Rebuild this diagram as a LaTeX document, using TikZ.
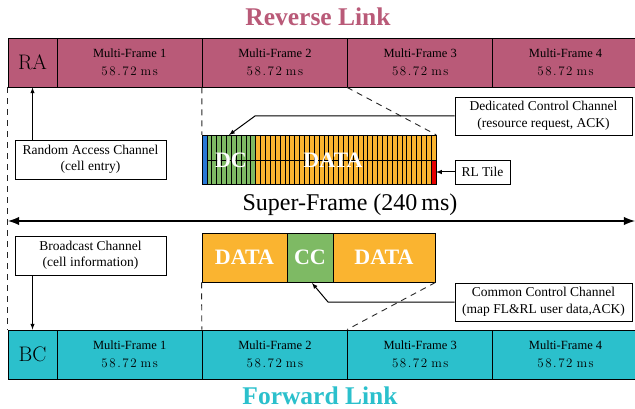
\documentclass[tikz,border=0pt]{standalone}
\usepackage{fontspec}
\usepackage{amsmath}
\usetikzlibrary{arrows}
\usetikzlibrary{shapes}
\newfontfamily\tnr{Liberation Serif}
\newfontfamily\lmsp[LetterSpace=12]{Latin Modern Roman}
\definecolor{rlpink}{RGB}{185,90,120}
\definecolor{flcyan}{RGB}{43,192,204}
\definecolor{slotorange}{RGB}{250,180,48}
\definecolor{slotgreen}{RGB}{126,186,100}
\definecolor{slotblue}{RGB}{40,120,215}
\definecolor{slotred}{RGB}{230,0,0}
\newcommand{\mfdur}{{\lmsp\fontsize{13}{18}\selectfont 58.72\hspace{4pt}ms}}

\begin{document}
\begin{tikzpicture}[x=1pt,y=-1pt,
        cell/.style={draw, line width=0.9pt, inner sep=0pt, minimum height=49pt, align=center},
        mfcell/.style={cell, minimum width=145.3pt, font=\tnr\fontsize{12.5}{18}\selectfont},
        idcell/.style={cell, minimum width=49pt, font=\fontsize{21}{21}\selectfont},
        datacell/.style={cell, fill=slotorange, text=white, font=\tnr\bfseries\fontsize{22}{22}\selectfont},
        infobox/.style={draw, fill=white, line width=0.8pt, inner sep=0pt, align=center, font=\tnr\fontsize{13.5}{16.5}\selectfont},
        title/.style={anchor=base, inner sep=0pt, font=\tnr\bfseries\fontsize{25.5}{25.5}\selectfont},
        guide/.style={dash pattern=on 6pt off 5pt, line width=0.9pt, black!85},
        pointer/.style={-latex, line width=1pt}]
        \useasboundingbox (0,0) rectangle (635,409);

        % reverse link
        \node[title, text=rlpink] (rltitle) at (318,26) {Reverse Link};
        \node[idcell, fill=rlpink] (ra) at (32.5,62.5) {RA};
        \foreach \i in {1,...,4}
            \node[mfcell, fill=rlpink] (rl\i) at ({57+145.3*(\i-0.5)},62.5) {Multi-Frame \i\\\mfdur};

        % forward link
        \node[title, text=flcyan] (fltitle) at (320,404) {Forward Link};
        \node[idcell, fill=flcyan] (bc) at (32.5,354.5) {BC};
        \foreach \i in {1,...,4}
            \node[mfcell, fill=flcyan] (fl\i) at ({57+145.3*(\i-0.5)},354.5) {Multi-Frame \i\\\mfdur};

        % RL tile
        \node[inner sep=0pt, minimum width=234pt, minimum height=49pt] (tile) at (319,159.5) {};
        \fill[slotblue] (202,135) rectangle (206.875,184);
        \fill[slotgreen] (206.875,135) rectangle (255.625,184);
        \fill[slotorange] (255.625,135) rectangle (436,184);
        \fill[slotred] (431.125,160) rectangle (436,184);
        \foreach \c in {0,...,48}
            \draw[line width=0.6pt] (202+\c*4.875,135) -- (202+\c*4.875,184);
        \draw[line width=0.6pt] (206.875,160) -- (436,160);
        \draw[line width=0.8pt] (202,135) rectangle (436,184);
        \node[text=white, font=\tnr\bfseries\fontsize{22}{22}\selectfont] (dc) at (231,160) {DC};
        \node[text=white, font=\tnr\bfseries\fontsize{22}{22}\selectfont] (tiledata) at (333,160) {DATA};
        \coordinate (dcslot) at (229,135);
        \coordinate (dcbend) at (255,116);
        \coordinate (redslot) at (436,172);

        % FL slots
        \node[datacell, minimum width=85pt] (fldata1) at (244.5,257.5) {DATA};
        \node[datacell, minimum width=46pt, fill=slotgreen] (cc) at (310,257.5) {CC};
        \node[datacell, minimum width=102pt] (fldata2) at (384,257.5) {DATA};
        \coordinate (ccslot) at (312,283);
        \coordinate (ccbend) at (328,302);

        % super-frame
        \node[font=\tnr\fontsize{24}{24}\selectfont] (sftext) at (350,205) {Super-Frame (240\,ms)};
        \coordinate (sfleft) at (8,221);
        \coordinate (sfright) at (635,221);
        \draw[latex-latex, line width=2.8pt] (sfleft) -- (sfright);

        % dashed guides
        \draw[guide] (ra.south west) -- (bc.north west);
        \draw[guide] (rl2.south west) -- (tile.north west);
        \draw[guide] (rl3.south west) -- (tile.north east);
        \draw[guide] (fldata1.south west) -- (fl2.north west);
        \draw[guide] (fldata2.south east) -- (fl3.north west);

        % channel boxes
        \node[infobox, minimum width=151pt, minimum height=39pt] (rach) at (90.5,159.5) {Random Access Channel\\(cell entry)};
        \node[infobox, minimum width=151pt, minimum height=39pt] (bch) at (90.5,255.5) {Broadcast Channel\\(cell information)};
        \node[infobox, minimum width=177pt, minimum height=38pt] (dcch) at (543.5,116) {Dedicated Control Channel\\(resource request, ACK)};
        \node[infobox, minimum width=55pt, minimum height=24pt] (rltile) at (482.5,172) {RL Tile};
        \node[infobox, minimum width=177pt, minimum height=38pt] (ccch) at (543.5,302) {Common Control Channel\\(map FL\&RL user data,ACK)};

        \draw[pointer] (ra.south |- rach.north) -- (ra.south);
        \draw[pointer] (bc.north |- bch.south) -- (bc.north);
        \draw[pointer] (dcch.west) -- (dcbend) -- (dcslot);
        \draw[pointer] (rltile.west) -- (redslot);
        \draw[pointer] (ccch.west) -- (ccbend) -- (ccslot);
\end{tikzpicture}
\end{document}
